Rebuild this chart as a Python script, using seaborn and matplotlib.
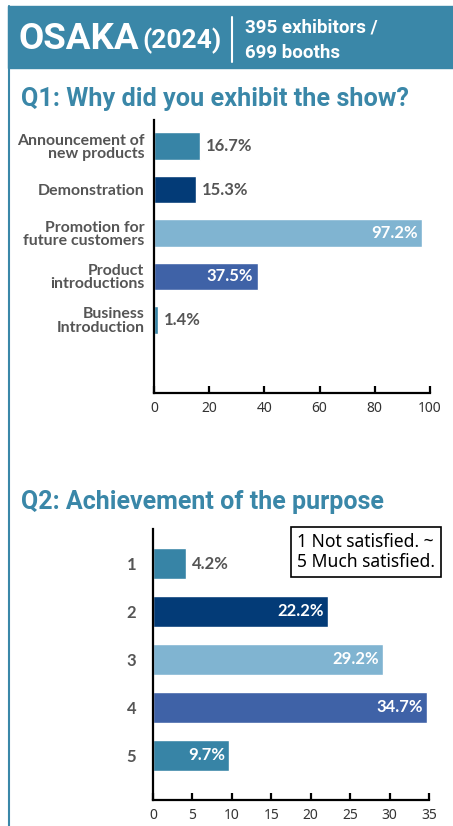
import matplotlib
matplotlib.use("Agg")
import matplotlib.pyplot as plt
import seaborn as sns
import pandas as pd
from matplotlib.patches import Rectangle

# data
q1_labels = ["Announcement of\nnew products", "Demonstration", "Promotion for\nfuture customers",
             "Product\nintroductions", "Business\nIntroduction"]
q1_values = [16.7, 15.3, 97.2, 37.5, 1.4]
q1_inside = [False, False, True, True, False]

q2_labels = ["1", "2", "3", "4", "5"]
q2_values = [4.2, 22.2, 29.2, 34.7, 9.7]
q2_inside = [False, True, True, True, True]

bar_colors = ["#3784A6", "#033B77", "#80B4D1", "#3F62A7", "#3784A6"]
teal = "#3A87A8"
gray = "#555555"

sns.set_theme(style="white")
cond = ["Roboto", "DejaVu Sans"]
body = ["Lato", "DejaVu Sans"]

W, H = 453, 826
fig = plt.figure(figsize=(W / 100, H / 100), dpi=100)


def fx(x):
    return x / W


def fy(y):
    return 1 - y / H


# header band + left border
fig.patches.append(Rectangle((fx(8), fy(68)), fx(453) - fx(8), fy(6) - fy(68),
                             transform=fig.transFigure, color=teal, zorder=0))
fig.add_artist(plt.Line2D([fx(8.5), fx(8.5)], [fy(6), 0], color=teal, lw=1.5,
                          transform=fig.transFigure))
fig.add_artist(plt.Line2D([fx(232), fx(232)], [fy(17), fy(62)], color="white", lw=1.5,
                          transform=fig.transFigure))

fig.text(fx(19), fy(39), "OSAKA", color="white", fontsize=26.5, fontweight="bold",
         family=cond, va="center", ha="left")
fig.text(fx(142), fy(41), "(2024)", color="white", fontsize=19, fontweight="bold",
         family=cond, va="center", ha="left")
fig.text(fx(245), fy(27), "395 exhibitors /", color="white", fontsize=13.5, fontweight="bold",
         family=cond, va="center", ha="left")
fig.text(fx(245), fy(53), "699 booths", color="white", fontsize=13.5, fontweight="bold",
         family=cond, va="center", ha="left")

fig.text(fx(21), fy(99), "Q1: Why did you exhibit the show?", color=teal, fontsize=18.2,
         fontweight="bold", family=cond, va="center", ha="left")
fig.text(fx(21), fy(502), "Q2: Achievement of the purpose", color=teal, fontsize=18,
         fontweight="bold", family=cond, va="center", ha="left")


def draw(ax, labels, values, inside, xmax, xstep, ylim, label_size, label_pad):
    df = pd.DataFrame({"cat": labels, "val": values})
    sns.barplot(data=df, x="val", y="cat", hue="cat", palette=bar_colors, orient="h",
                width=0.64, legend=False, ax=ax, saturation=1)
    ax.set_xlim(0, xmax)
    ax.set_ylim(*ylim)
    ax.set_xticks(range(0, xmax + 1, xstep))
    ax.set_xlabel("")
    ax.set_ylabel("")
    ax.set_facecolor("none")
    for s in ["top", "right"]:
        ax.spines[s].set_visible(False)
    for s in ["left", "bottom"]:
        ax.spines[s].set_color("black")
        ax.spines[s].set_linewidth(1.6)
    ax.tick_params(axis="x", direction="in", length=5, width=1.6, color="black",
                   labelsize=10, labelcolor="#333333", pad=6, bottom=True)
    ax.tick_params(axis="y", length=0, pad=label_pad)
    for t in ax.get_yticklabels():
        t.set_family(body)
        t.set_fontsize(label_size)
        t.set_color(gray)
        t.set_fontweight("bold")
        t.set_linespacing(0.92)
    for t in ax.get_xticklabels():
        t.set_family(["Noto Sans", "DejaVu Sans"])
    for i, (v, ins) in enumerate(zip(values, inside)):
        if ins:
            ax.annotate(f"{v}%", (v, i), xytext=(-3, 0), textcoords="offset points",
                        ha="right", va="center", color="white", fontsize=12,
                        fontweight="bold", family=body)
        else:
            ax.annotate(f"{v}%", (v, i), xytext=(4, 0), textcoords="offset points",
                        ha="left", va="center", color=gray, fontsize=12,
                        fontweight="bold", family=body)


ax1 = fig.add_axes([fx(154), fy(393), fx(430) - fx(154), fy(120) - fy(393)])
draw(ax1, q1_labels, q1_values, q1_inside, 100, 20, (5.68, -0.6), 11.4, 7)

ax2 = fig.add_axes([fx(153), fy(800), fx(429) - fx(153), fy(529) - fy(800)])
draw(ax2, q2_labels, q2_values, q2_inside, 35, 5, (4.93, -0.72), 12, 12)

fig.text(fx(297), fy(552), "1 Not satisfied. ~\n5 Much satisfied.", color="black",
         fontsize=12.6, family=["Noto Sans", "DejaVu Sans"], va="center", ha="left",
         linespacing=1.1,
         bbox=dict(boxstyle="square,pad=0.35", fc="white", ec="black", lw=1.2))

fig.savefig("out.png", dpi=100)
